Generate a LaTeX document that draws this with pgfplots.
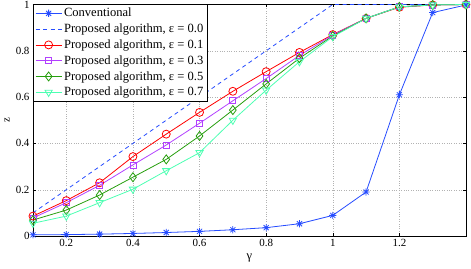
\documentclass[border=0pt]{standalone}
\usepackage{pgfplots}
\pgfplotsset{compat=1.18}
\usepackage{fontspec}
\setmainfont{Liberation Serif}
\definecolor{cblue}{rgb}{0.15,0.3,1}
\definecolor{cred}{rgb}{1,0,0}
\definecolor{cpurple}{rgb}{0.7,0.25,1}
\definecolor{cgreen}{rgb}{0.15,0.62,0.05}
\definecolor{ccyan}{rgb}{0.3,1,0.7}
\pgfdeclareplotmark{ast8}{%
 \pgfpathmoveto{\pgfqpoint{-\pgfplotmarksize}{0pt}}\pgfpathlineto{\pgfqpoint{\pgfplotmarksize}{0pt}}%
 \pgfpathmoveto{\pgfqpoint{0pt}{-\pgfplotmarksize}}\pgfpathlineto{\pgfqpoint{0pt}{\pgfplotmarksize}}%
 \pgfpathmoveto{\pgfqpoint{-.707\pgfplotmarksize}{-.707\pgfplotmarksize}}\pgfpathlineto{\pgfqpoint{.707\pgfplotmarksize}{.707\pgfplotmarksize}}%
 \pgfpathmoveto{\pgfqpoint{-.707\pgfplotmarksize}{.707\pgfplotmarksize}}\pgfpathlineto{\pgfqpoint{.707\pgfplotmarksize}{-.707\pgfplotmarksize}}%
 \pgfusepathqstroke}
\begin{document}
\begin{tikzpicture}
\begin{axis}[
  scale only axis,
  width=433bp, height=231.5bp,
  xmin=0.1, xmax=1.4, ymin=0, ymax=1,
  xtick={0.2,0.4,0.6,0.8,1,1.2},
  ytick={0,0.2,0.4,0.6,0.8,1},
  xticklabels={0.2,0.4,0.6,0.8,1,1.2},
  yticklabels={0,0.2,0.4,0.6,0.8,1},
  tick align=inside,
  major tick length=3bp,
  tick style={black, line width=0.4pt},
  grid=major,
  grid style={dotted, gray!60},
  axis line style={black, line width=0.5pt},
  ticklabel style={font=\fontsize{11}{13}\selectfont},
  xlabel={γ},
  ylabel={z},
  xlabel style={font=\fontsize{12.5}{14}\selectfont, at={(axis description cs:0.5,0)}, anchor=center, yshift=-22bp},
  ylabel style={font=\fontsize{11}{13}\selectfont, at={(axis description cs:0,0.5)}, anchor=center, yshift=26bp},
  legend style={at={(0,1)}, anchor=north west, font=\fontsize{12.6}{14}\selectfont,
    draw=black, line width=0.5pt, inner xsep=2pt, inner ysep=1.5pt, row sep=1.6pt,
    cells={anchor=west}},
  legend cell align=left,
  legend image code/.code={
    \draw[mark repeat=2,mark phase=2] plot coordinates {(0bp,0bp) (13bp,0bp) (26bp,0bp)};
  },
]
\coordinate (sw) at (rel axis cs:0,0);
\coordinate (ne) at (rel axis cs:1,1);
\addplot[cblue, line width=0.8pt, mark=ast8, mark size=3.6bp, mark options={solid, line width=0.8pt}] coordinates {
(0.1,0.005) (0.2,0.006) (0.3,0.008) (0.4,0.011) (0.5,0.015) (0.6,0.02) (0.7,0.027) (0.8,0.036) (0.9,0.053) (1.0,0.089) (1.1,0.19) (1.2,0.61) (1.3,0.965) (1.4,0.998)};
\addlegendentry{Conventional}
\addplot[cblue, line width=0.8pt, dash pattern=on 4bp off 3.5bp] coordinates {
(0.1,0.1) (0.2,0.2) (0.3,0.3) (0.4,0.4) (0.5,0.5) (0.6,0.6) (0.7,0.7) (0.8,0.8) (0.9,0.9) (1.0,1.0) (1.1,1.0) (1.2,1.0) (1.3,1.0) (1.4,1.0)};
\addlegendentry{Proposed algorithm, ε = 0.0}
\addplot[cred, line width=0.8pt, mark=o, mark size=4bp, mark options={solid}] coordinates {
(0.1,0.086) (0.2,0.153) (0.3,0.23) (0.4,0.343) (0.5,0.44) (0.6,0.534) (0.7,0.625) (0.8,0.71) (0.9,0.793) (1.0,0.87) (1.1,0.94) (1.2,0.988) (1.3,0.998) (1.4,1.0)};
\addlegendentry{Proposed algorithm, ε = 0.1}
\addplot[cpurple, line width=0.8pt, mark=square, mark size=3bp, mark options={solid}] coordinates {
(0.1,0.078) (0.2,0.144) (0.3,0.219) (0.4,0.307) (0.5,0.393) (0.6,0.487) (0.7,0.584) (0.8,0.68) (0.9,0.78) (1.0,0.868) (1.1,0.94) (1.2,0.99) (1.3,0.998) (1.4,1.0)};
\addlegendentry{Proposed algorithm, ε = 0.3}
\addplot[cgreen, line width=0.8pt, mark=diamond, mark size=4.5bp, mark options={solid}] coordinates {
(0.1,0.069) (0.2,0.112) (0.3,0.177) (0.4,0.254) (0.5,0.331) (0.6,0.432) (0.7,0.544) (0.8,0.657) (0.9,0.768) (1.0,0.864) (1.1,0.94) (1.2,0.99) (1.3,0.998) (1.4,1.0)};
\addlegendentry{Proposed algorithm, ε = 0.5}
\addplot[ccyan, line width=0.8pt, mark=triangle, mark size=4.2bp, mark options={solid, rotate=180}] coordinates {
(0.1,0.055) (0.2,0.086) (0.3,0.144) (0.4,0.202) (0.5,0.282) (0.6,0.36) (0.7,0.50) (0.8,0.63) (0.9,0.753) (1.0,0.861) (1.1,0.94) (1.2,0.99) (1.3,0.998) (1.4,1.0)};
\addlegendentry{Proposed algorithm, ε = 0.7}
\end{axis}
\pgfresetboundingbox
\path[use as bounding box] ([shift={(-33bp,-33bp)}]sw) rectangle ([shift={(5bp,4.5bp)}]ne);
\end{tikzpicture}
\end{document}
